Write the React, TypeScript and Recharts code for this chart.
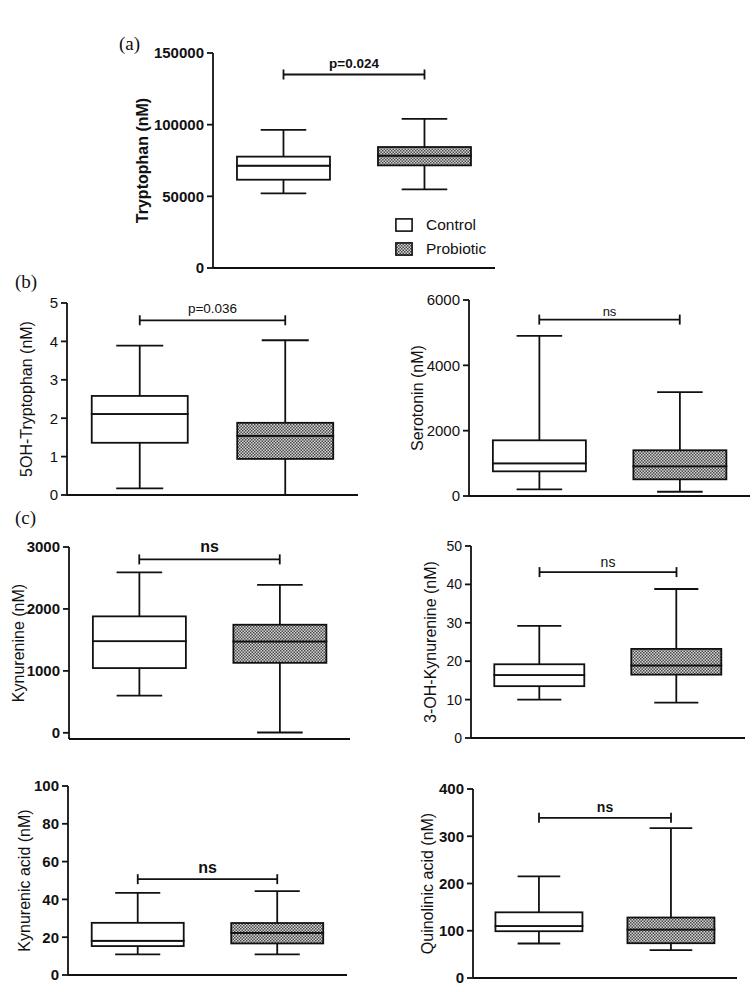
import React from 'react';
import { BarChart, Bar, XAxis, YAxis, ReferenceLine, Legend } from 'recharts';

const GROUPS = ['Control', 'Probiotic'];

// box plot summaries: [min, q1, median, q3, max]
const TRP_CONTROL = [52000, 61600, 71400, 77700, 96300];
const TRP_PROBIOTIC = [54900, 71600, 78400, 84400, 104000];
const TRP_TICKS = [0, 50000, 100000, 150000];

const OHTRP_CONTROL = [0.17, 1.36, 2.11, 2.58, 3.89];
const OHTRP_PROBIOTIC = [0, 0.94, 1.54, 1.88, 4.03];
const OHTRP_TICKS = [0, 1, 2, 3, 4, 5];

const SER_CONTROL = [205, 755, 1000, 1705, 4900];
const SER_PROBIOTIC = [130, 510, 910, 1400, 3180];
const SER_TICKS = [0, 2000, 4000, 6000];

const KYN_CONTROL = [600, 1045, 1480, 1880, 2590];
const KYN_PROBIOTIC = [5, 1130, 1475, 1745, 2390];
const KYN_TICKS = [0, 1000, 2000, 3000];

const OHKYN_CONTROL = [10, 13.5, 16.4, 19.2, 29.2];
const OHKYN_PROBIOTIC = [9.2, 16.5, 18.9, 23.2, 38.8];
const OHKYN_TICKS = [0, 10, 20, 30, 40, 50];

const KYNA_CONTROL = [10.9, 15.3, 18.1, 27.6, 43.5];
const KYNA_PROBIOTIC = [10.9, 16.7, 22.3, 27.5, 44.4];
const KYNA_TICKS = [0, 20, 40, 60, 80, 100];

const QUIN_CONTROL = [73, 99, 110, 139, 215];
const QUIN_PROBIOTIC = [59, 73.6, 102.6, 128, 317];
const QUIN_TICKS = [0, 100, 200, 300, 400];

// significance bars
const SIG_TEXT = ['p=0.024', 'p=0.036', 'ns', 'ns', 'ns', 'ns', 'ns'];
const SIG_LEVEL = [135000, 4.55, 5400, 2800, 43.2, 50.7, 339];

const FONT = '"Liberation Sans", Arial, sans-serif';
const INK = '#111';
const LW = 1.8;

const YW = 110;
const MT = 20;
const MR = 4;
const MB = 6;
const XH = 1;

const PANELS = [
  { title: 'Tryptophan (nM)', control: TRP_CONTROL, probiotic: TRP_PROBIOTIC, ticks: TRP_TICKS, domain: [0, 150000], rect: [213, 53, 495, 268], labelGap: 71, tickSize: 15, labelSize: 16, labelWeight: 600, sigSize: 13.5, sigGap: 11, bold: true, legend: true },
  { title: '5OH-Tryptophan (nM)', control: OHTRP_CONTROL, probiotic: OHTRP_PROBIOTIC, ticks: OHTRP_TICKS, domain: [0, 5], rect: [67, 303, 358, 495], labelGap: 41, tickSize: 15, labelSize: 16, labelWeight: 400, sigSize: 13.5, sigGap: 12, bold: false },
  { title: 'Serotonin (nM)', control: SER_CONTROL, probiotic: SER_PROBIOTIC, ticks: SER_TICKS, domain: [0, 6000], rect: [469, 300, 750, 496], labelGap: 52, tickSize: 15, labelSize: 16, labelWeight: 400, sigSize: 13, sigGap: 8, bold: false },
  { title: 'Kynurenine (nM)', control: KYN_CONTROL, probiotic: KYN_PROBIOTIC, ticks: KYN_TICKS, domain: [-100, 3000], rect: [69, 547, 350, 739], labelGap: 51, tickSize: 15, labelSize: 16, labelWeight: 400, sigSize: 16, sigGap: 13, bold: true },
  { title: '3-OH-Kynurenine (nM)', control: OHKYN_CONTROL, probiotic: OHKYN_PROBIOTIC, ticks: OHKYN_TICKS, domain: [0, 50], rect: [471, 546, 745, 738], labelGap: 41, tickSize: 14, labelSize: 16, labelWeight: 400, sigSize: 14, sigGap: 10, bold: false },
  { title: 'Kynurenic acid (nM)', control: KYNA_CONTROL, probiotic: KYNA_PROBIOTIC, ticks: KYNA_TICKS, domain: [0, 100], rect: [68, 786, 347, 975], labelGap: 44, tickSize: 15, labelSize: 16, labelWeight: 400, sigSize: 16, sigGap: 12, bold: true },
  { title: 'Quinolinic acid (nM)', control: QUIN_CONTROL, probiotic: QUIN_PROBIOTIC, ticks: QUIN_TICKS, domain: [0, 400], rect: [473, 789, 737, 978], labelGap: 46, tickSize: 15, labelSize: 16, labelWeight: 400, sigSize: 14, sigGap: 11, bold: true },
];

const LETTERS = [
  { text: '(a)', x: 119, y: 50 },
  { text: '(b)', x: 15, y: 288 },
  { text: '(c)', x: 15, y: 524 },
];

function toRows(control: number[], probiotic: number[]) {
  return GROUPS.map((group, i) => {
    const [mn, q1, md, q3, mx] = i === 0 ? control : probiotic;
    return { group, base: mn, lowW: q1 - mn, lowBox: md - q1, upBox: q3 - md, upW: mx - q3 };
  });
}

const groupOf = (p: any) => p?.payload?.group ?? p?.group ?? GROUPS[p?.index ?? 0];

const boxShape = (p: any) => {
  if (!p.height && p.height !== 0) return <g />;
  const fill = groupOf(p) === 'Control' ? '#fff' : 'url(#checker)';
  return <rect x={p.x} y={p.y} width={p.width} height={p.height} fill={fill} stroke={INK} strokeWidth={LW} />;
};

const whiskerShape = (top: boolean) => (p: any) => {
  const cx = p.x + p.width / 2;
  const cw = p.width * 0.245;
  const capY = top ? p.y : p.y + p.height;
  return (
    <g stroke={INK} strokeWidth={LW}>
      <line x1={cx} x2={cx} y1={p.y} y2={p.y + p.height} />
      <line x1={cx - cw} x2={cx + cw} y1={capY} y2={capY} />
    </g>
  );
};

const SigBar = (p: any) => {
  const { x1, x2, y1, text, size, gap, bold } = p;
  return (
    <g>
      <g stroke={INK} strokeWidth={LW}>
        <line x1={x1} x2={x2} y1={y1} y2={y1} />
        <line x1={x1} x2={x1} y1={y1 - 5} y2={y1 + 5} />
        <line x1={x2} x2={x2} y1={y1 - 5} y2={y1 + 5} />
      </g>
      <text x={(x1 + x2) / 2} y={y1 - gap} textAnchor="middle" dominantBaseline="central"
        fontFamily={FONT} fontSize={size} fontWeight={bold ? 600 : 400} fill={INK}>{text}</text>
    </g>
  );
};

const LegendBox = () => (
  <div style={{ fontFamily: FONT, fontSize: 15.5, color: INK }}>
    {GROUPS.map((g) => (
      <div key={g} style={{ display: 'flex', alignItems: 'center', height: 24 }}>
        <svg width={18} height={14} style={{ marginRight: 13 }}>
          <rect x={0.9} y={0.9} width={16.2} height={12.2} fill={g === 'Control' ? '#fff' : 'url(#checker)'} stroke={INK} strokeWidth={1.6} />
        </svg>
        <span>{g}</span>
      </div>
    ))}
  </div>
);

function BoxPanel({ panel, index }: { panel: any; index: number }) {
  const [l, t, r, b] = panel.rect;
  const width = YW + (r - l) + MR;
  const height = MT + (b - t) + XH + MB;
  const rows = toRows(panel.control, panel.probiotic);
  const weight = panel.bold ? 700 : 400;
  return (
    <div style={{ position: 'absolute', left: l - YW, top: t - MT }}>
      <BarChart width={width} height={height} data={rows} margin={{ top: MT, right: MR, bottom: MB, left: 0 }} barCategoryGap="17%">
        <XAxis dataKey="group" height={XH} tick={false} tickLine={false} axisLine={{ stroke: INK, strokeWidth: LW }} />
        <YAxis
          width={YW}
          domain={panel.domain}
          ticks={panel.ticks}
          interval={0}
          tickSize={6}
          tickMargin={3}
          axisLine={{ stroke: INK, strokeWidth: LW }}
          tickLine={{ stroke: INK, strokeWidth: LW }}
          tick={{ fill: INK, fontSize: panel.tickSize, fontFamily: FONT, fontWeight: weight }}
          label={{
            content: (lp: any) => {
              const vb = lp.viewBox || { x: 0, y: MT, width: YW, height: b - t };
              const cx = vb.x + vb.width - panel.labelGap;
              const cy = vb.y + vb.height / 2;
              return (
                <text x={cx} y={cy} transform={`rotate(-90 ${cx} ${cy})`} textAnchor="middle" dominantBaseline="central"
                  fontFamily={FONT} fontSize={panel.labelSize} fontWeight={panel.labelWeight} fill={INK}>
                  {panel.title}
                </text>
              );
            },
          }}
        />
        <Bar dataKey="base" stackId="s" isAnimationActive={false} shape={() => <g />} />
        <Bar dataKey="lowW" stackId="s" isAnimationActive={false} shape={whiskerShape(false)} />
        <Bar dataKey="lowBox" stackId="s" isAnimationActive={false} shape={boxShape} />
        <Bar dataKey="upBox" stackId="s" isAnimationActive={false} shape={boxShape} />
        <Bar dataKey="upW" stackId="s" isAnimationActive={false} shape={whiskerShape(true)} />
        <ReferenceLine
          segment={[{ x: GROUPS[0], y: SIG_LEVEL[index] }, { x: GROUPS[1], y: SIG_LEVEL[index] }]}
          ifOverflow="visible"
          shape={(sp: any) => <SigBar {...sp} text={SIG_TEXT[index]} size={panel.sigSize} gap={panel.sigGap} bold={panel.bold} />}
        />
        {panel.legend && (
          <Legend layout="vertical" align="center" verticalAlign="middle" content={() => <LegendBox />}
            wrapperStyle={{ left: 395 - (l - YW), top: 213 - (t - MT), width: 120 }} />
        )}
      </BarChart>
    </div>
  );
}

export default function App() {
  return (
    <div style={{ position: 'absolute', left: 0, top: 0, width: 755, height: 992, overflow: 'hidden', background: '#fff' }}>
      <svg width={755} height={992} style={{ position: 'absolute', left: 0, top: 0 }}>
        <defs>
          <pattern id="checker" patternUnits="userSpaceOnUse" width={3} height={3}>
            <rect width={3} height={3} fill="#d4d4d4" />
            <rect width={1.5} height={1.5} fill="#4a4a4a" />
            <rect x={1.5} y={1.5} width={1.5} height={1.5} fill="#4a4a4a" />
          </pattern>
        </defs>
        {LETTERS.map((lt) => (
          <text key={lt.text} x={lt.x} y={lt.y} fontFamily='"Liberation Serif", "Times New Roman", serif' fontSize={19} fill={INK}>{lt.text}</text>
        ))}
      </svg>
      {PANELS.map((p, i) => <BoxPanel key={p.title} panel={p} index={i} />)}
    </div>
  );
}
